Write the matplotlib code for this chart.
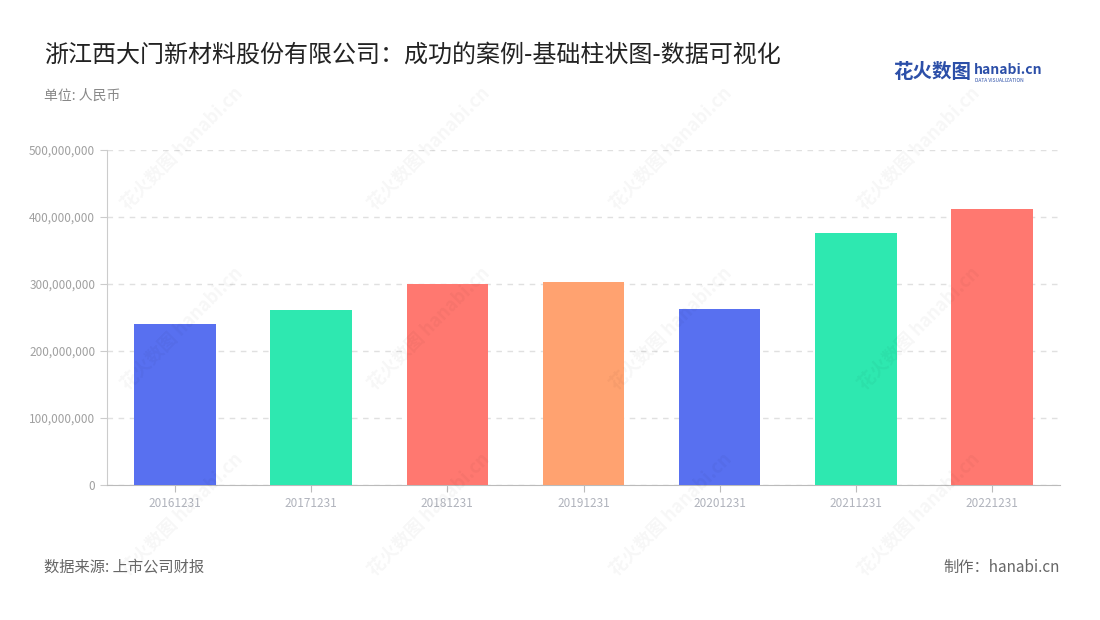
import matplotlib.pyplot as plt
from matplotlib.ticker import FuncFormatter

plt.rcParams['font.family'] = ['Noto Sans CJK SC', 'DejaVu Sans']

# data (RMB)
dates = ['20161231', '20171231', '20181231', '20191231', '20201231', '20211231', '20221231']
values = [240e6, 261e6, 300e6, 303e6, 263e6, 376e6, 412e6]
colors = ['#5870F0', '#2EE8B0', '#FF7870', '#FFA270', '#5870F0', '#2EE8B0', '#FF7870']

fig = plt.figure(figsize=(11, 6.2), dpi=100)
ax = fig.add_axes([107 / 1100, 1 - 485 / 620, 953 / 1100, 335 / 620])

ax.bar(range(len(dates)), values, width=0.6, color=colors, zorder=3)
ax.set_xlim(-0.5, len(dates) - 0.5)
ax.set_ylim(0, 500e6)
ax.set_yticks([0, 100e6, 200e6, 300e6, 400e6, 500e6])
ax.yaxis.set_major_formatter(FuncFormatter(lambda v, p: f'{int(v):,}'))
ax.set_xticks(range(len(dates)))
ax.set_xticklabels(dates)

ax.grid(axis='y', color='#E0E0E0', linestyle=(0, (4, 4)), linewidth=1, zorder=0)
for s in ['top', 'right']:
    ax.spines[s].set_visible(False)
ax.spines['left'].set_color('#CCCCCC')
ax.spines['bottom'].set_color('#BBBBBB')
ax.tick_params(axis='y', colors='#CCCCCC', labelcolor='#A0A0A0', labelsize=8.5, length=5)
ax.tick_params(axis='x', colors='#BBBBBB', labelcolor='#B0B3BC', labelsize=8.5, length=5)

# faint watermarks
for wx in [0.165, 0.39, 0.61, 0.835]:
    for wy in [0.76, 0.47, 0.17]:
        fig.text(wx, wy, '花火数图 hanabi.cn', rotation=45, fontsize=13, color='#000000',
                 alpha=0.035, ha='center', va='center', fontweight='bold')

fig.text(44 / 1100, 1 - 55 / 620, '浙江西大门新材料股份有限公司：成功的案例-基础柱状图-数据可视化',
         fontsize=17.3, color='#222222', va='center')
fig.text(44 / 1100, 1 - 96 / 620, '单位: 人民币', fontsize=10, color='#888888', va='center')

fig.text(893 / 1100, 1 - 72 / 620, '花火数图', fontsize=14, color='#2C4FA8',
         va='center', fontweight='bold')
fig.text(974 / 1100, 1 - 70 / 620, 'hanabi.cn', fontsize=10, color='#2C4FA8',
         va='center', fontweight='bold')
fig.text(975 / 1100, 1 - 80 / 620, 'DATA VISUALIZATION', fontsize=3.5, color='#2C4FA8', va='center')

fig.text(44 / 1100, 1 - 567 / 620, '数据来源: 上市公司财报', fontsize=11, color='#666666', va='center')
fig.text(1060 / 1100, 1 - 567 / 620, '制作：hanabi.cn', fontsize=11, color='#666666',
         va='center', ha='right')

fig.savefig('out.png', dpi=100, facecolor='white')
